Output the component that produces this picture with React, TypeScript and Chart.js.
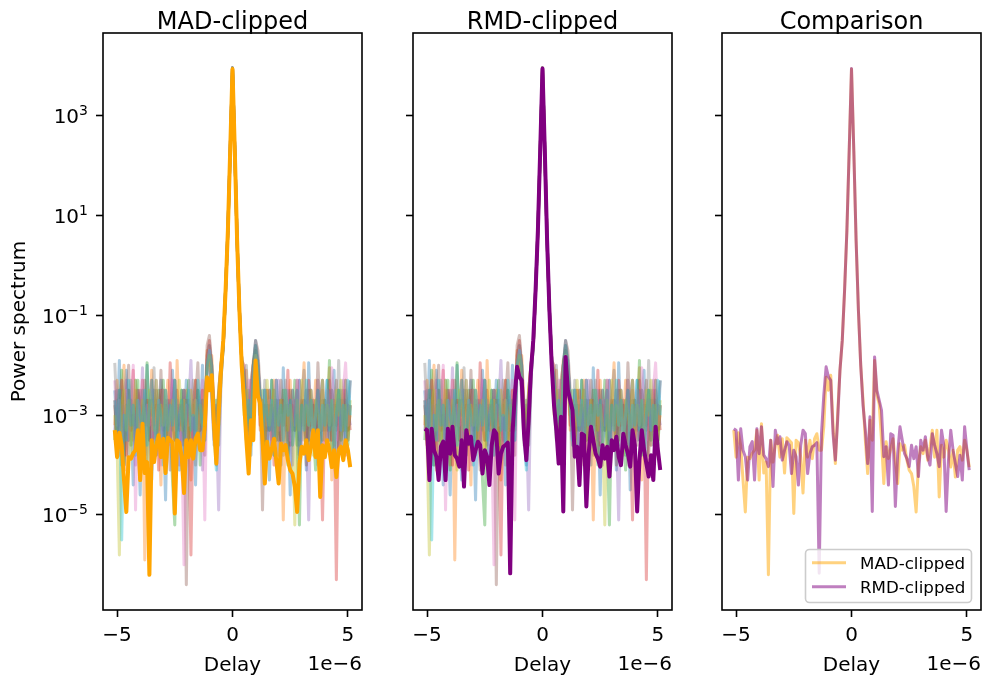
import { useEffect, useRef } from "react";
import { Chart, registerables } from "chart.js";

Chart.register(...registerables);

const FONT = "'DejaVu Sans', Verdana, sans-serif";
Chart.defaults.font.family = FONT;

// Delay grid, in units of 1e-6 s
const DELAY_US = [
  -5.1, -5.0, -4.9, -4.8, -4.7, -4.6, -4.5, -4.4, -4.3, -4.2, -4.1, -4.0, -3.9, -3.8, -3.7, -3.6, -3.5,
  -3.4, -3.3, -3.2, -3.1, -3.0, -2.9, -2.8, -2.7, -2.6, -2.5, -2.4, -2.3, -2.2, -2.1, -2.0, -1.9, -1.8,
  -1.7, -1.6, -1.5, -1.4, -1.3, -1.2, -1.1, -1.0, -0.9, -0.8, -0.7, -0.6, -0.5, -0.4, -0.3, -0.2, -0.1,
  0.0, 0.1, 0.2, 0.3, 0.4, 0.5, 0.6, 0.7, 0.8, 0.9, 1.0, 1.1, 1.2, 1.3, 1.4, 1.5, 1.6, 1.7, 1.8, 1.9,
  2.0, 2.1, 2.2, 2.3, 2.4, 2.5, 2.6, 2.7, 2.8, 2.9, 3.0, 3.1, 3.2, 3.3, 3.4, 3.5, 3.6, 3.7, 3.8, 3.9,
  4.0, 4.1, 4.2, 4.3, 4.4, 4.5, 4.6, 4.7, 4.8, 4.9, 5.0, 5.1,
];

const X_TICKS = [-5, 0, 5];
const Y_TICK_EXPONENTS = [3, 1, -1, -3, -5];

// log10 of the power spectrum, split into delay < -0.45, |delay| <= 0.4, delay > 0.45
const MAD_LEFT = [
  -3.3, -3.84, -3.35, -3.6, -4.3, -4.94, -3.84, -3.87, -3.76, -3.7, -3.3, -4.3, -3.17, -4.16, -3.94, -6.2,
  -3.5, -3.94, -3.6, -3.4, -3.84, -3.47, -4.16, -3.45, -3.5, -3.55, -4.97, -3.5, -3.55, -3.84, -4.56, -3.5,
  -3.84, -3.5, -3.87, -3.47, -3.37, -3.7, -3.7, -3.23, -2.24, -2.5, -2.2, -3.2, -3.97, -2.97, -2.1,
];
const MAD_PEAK = [-1.5, -0.5, 0.7, 2.3, 3.94, 2.3, 0.5, -0.9, -2.0];
const MAD_RIGHT = [
  -2.7, -3.5, -4.17, -3.1, -3.5, -1.9, -2.6, -2.77, -3.5, -4.37, -3.53, -3.87, -3.67, -3.47, -3.93, -4.37,
  -3.57, -3.7, -3.6, -3.9, -4.1, -4.17, -4.43, -4.94, -3.97, -3.63, -3.77, -3.5, -3.9, -3.63, -3.3, -3.84,
  -3.3, -4.64, -3.6, -3.84, -3.5, -3.7, -4.04, -3.7, -4.24, -3.7, -3.63, -3.9, -3.5, -3.7, -4.04,
];

const RMD_LEFT = [
  -3.27, -3.3, -4.3, -3.27, -3.7, -3.83, -4.3, -3.63, -3.53, -4.3, -3.27, -3.77, -3.23, -3.8, -3.87, -4.03,
  -3.5, -4.43, -3.3, -3.57, -3.43, -3.9, -3.7, -3.53, -3.6, -4.17, -3.7, -3.83, -4.4, -3.6, -3.3, -3.37,
  -4.17, -3.77, -3.63, -3.6, -3.55, -6.17, -3.37, -2.6, -2.03, -2.23, -2.3, -3.37, -3.9, -3.1, -2.1,
];
const RMD_PEAK = [-1.5, -0.5, 0.7, 2.3, 3.95, 2.3, 0.5, -0.9, -2.0];
const RMD_RIGHT = [
  -2.8, -3.3, -3.97, -3.03, -4.93, -1.83, -2.5, -2.7, -2.9, -3.83, -3.63, -4.4, -3.37, -3.4, -4.83, -3.77,
  -3.23, -3.5, -3.77, -3.87, -4.03, -3.6, -3.87, -3.63, -4.23, -3.5, -3.7, -3.43, -3.83, -4.0, -3.37, -3.6,
  -3.77, -4.03, -3.3, -3.6, -4.93, -3.9, -3.3, -3.7, -3.97, -4.23, -3.8, -4.3, -3.23, -3.7, -4.1,
];

// Individual baselines shown faintly behind the highlighted spectrum
const BASELINE_PEAK = [-1.6, -0.5, 0.7, 2.3, 3.96, 2.3, 0.5, -0.9, -1.9];
const BASELINE_LEFT = [
  [-2.5, -3.3, -1.9, -4.0, -2.8, -2.1, -3.5, -3.0, -4.4, -2.3, -3.2, -4.6, -2.7, -3.8, -2.0, -3.3, -4.3, -2.5, -2.8, -3.6, -2.3, -3.0, -4.7, -2.7, -3.2, -2.1, -3.5, -2.8, -4.1, -2.5, -3.3, -2.3, -3.8, -3.0, -2.7, -4.4, -2.5, -3.2, -2.0, -3.5, -1.9, -1.6, -2.0, -3.2, -4.0, -2.7, -2.1],
  [-3.2, -2.3, -3.6, -2.8, -2.0, -4.1, -3.0, -2.7, -3.5, -2.5, -3.3, -4.0, -2.3, -5.9, -2.8, -3.2, -2.1, -3.8, -2.7, -3.3, -4.4, -2.5, -3.0, -2.3, -3.5, -2.8, -4.0, -1.9, -3.2, -2.7, -3.6, -2.5, -3.3, -4.3, -2.8, -2.3, -3.2, -3.5, -2.5, -3.0, -1.7, -2.0, -1.8, -2.8, -3.5, -2.5, -2.0],
  [-3.5, -2.7, -3.2, -2.1, -4.0, -3.0, -2.5, -3.6, -2.8, -3.3, -2.3, -4.1, -2.8, -3.2, -1.95, -3.5, -2.7, -3.3, -3.8, -2.5, -3.0, -2.3, -3.6, -2.8, -3.2, -4.3, -5.2, -2.7, -3.3, -2.5, -3.5, -3.0, -2.3, -3.8, -2.8, -3.3, -2.5, -4.0, -2.7, -3.2, -2.0, -1.8, -2.5, -3.3, -2.7, -3.6, -2.3],
  [-2.7, -3.6, -3.0, -2.3, -3.3, -3.8, -2.5, -3.2, -2.1, -3.5, -2.8, -2.5, -4.0, -3.0, -2.7, -3.5, -2.3, -3.2, -2.8, -4.1, -2.5, -3.3, -2.7, -3.6, -1.95, -3.0, -3.5, -2.5, -3.2, -2.8, -3.8, -2.7, -3.3, -5.8, -2.8, -2.3, -3.5, -3.0, -2.5, -3.3, -1.8, -1.5, -2.1, -3.0, -3.8, -2.8, -2.0],
  [-3.3, -2.5, -3.8, -2.8, -3.2, -2.3, -3.5, -2.7, -3.0, -4.0, -2.5, -3.3, -2.05, -3.6, -2.8, -3.2, -4.1, -2.7, -2.3, -3.3, -3.0, -3.8, -2.5, -2.8, -3.5, -2.3, -3.2, -2.7, -4.0, -3.0, -2.5, -3.5, -2.8, -1.9, -3.3, -3.6, -2.7, -3.0, -4.1, -2.5, -2.1, -1.9, -2.7, -3.5, -3.0, -4.9, -2.3],
  [-2.8, -3.5, -2.5, -3.2, -4.0, -2.7, -2.0, -3.3, -3.0, -3.6, -2.5, -2.8, -3.5, -2.3, -3.2, -2.7, -3.8, -3.0, -2.5, -3.3, -2.1, -3.5, -2.8, -3.2, -4.1, -2.7, -2.3, -3.3, -3.0, -3.6, -2.5, -6.4, -2.8, -3.2, -3.5, -2.7, -1.95, -3.3, -2.8, -3.8, -1.6, -1.4, -2.0, -2.8, -3.3, -2.5, -2.0],
  [-2.3, -3.2, -2.7, -3.6, -3.0, -2.5, -3.5, -2.8, -2.0, -4.9, -2.7, -3.3, -2.3, -3.8, -2.8, -3.2, -2.5, -3.5, -3.0, -2.7, -4.0, -2.5, -3.2, -2.8, -3.6, -2.3, -3.3, -2.7, -3.0, -3.5, -6.0, -2.8, -3.2, -2.5, -3.8, -2.7, -3.3, -3.0, -2.3, -5.1, -2.0, -1.7, -2.3, -3.2, -3.6, -2.7, -2.0],
  [-1.95, -3.0, -3.5, -2.5, -3.3, -2.8, -3.8, -2.3, -3.2, -2.7, -3.6, -3.0, -2.5, -3.3, -4.0, -2.7, -3.0, -2.05, -3.5, -2.8, -3.2, -2.5, -3.8, -3.0, -2.7, -3.3, -2.3, -3.6, -2.8, -3.2, -2.5, -3.5, -2.7, -3.0, -2.3, -4.0, -2.8, -3.3, -2.7, -3.2, -2.0, -1.9, -2.5, -3.6, -2.8, -3.2, -2.3],
  [-3.0, -3.6, -5.8, -2.8, -2.5, -3.3, -2.7, -3.8, -3.0, -2.3, -3.2, -3.5, -2.7, -3.0, -4.1, -2.5, -2.8, -3.3, -2.3, -3.6, -2.8, -3.2, -2.5, -3.5, -3.0, -2.7, -3.8, -2.8, -2.3, -3.3, -2.7, -3.2, -3.6, -2.5, -3.0, -2.7, -3.5, -2.8, -3.2, -2.5, -2.1, -1.8, -2.3, -3.0, -3.5, -2.5, -2.0],
  [-2.7, -3.3, -2.5, -5.5, -3.0, -3.5, -2.3, -3.2, -2.8, -3.8, -2.7, -3.0, -3.3, -2.5, -3.6, -2.8, -2.3, -3.2, -3.5, -2.7, -3.0, -4.0, -2.5, -3.3, -2.8, -3.2, -2.3, -3.5, -3.0, -2.7, -3.8, -2.8, -2.5, -3.3, -3.0, -3.6, -2.3, -2.8, -3.2, -3.5, -2.0, -1.7, -2.0, -3.3, -4.1, -2.8, -2.1],
];
const BASELINE_RIGHT = [
  [-2.3, -3.3, -2.8, -3.8, -2.0, -1.5, -1.9, -2.8, -3.6, -2.5, -3.2, -4.3, -2.3, -3.0, -3.5, -2.7, -4.0, -2.05, -3.3, -2.8, -4.6, -2.5, -3.0, -3.6, -2.3, -3.2, -2.7, -4.1, -1.95, -3.3, -2.8, -3.8, -2.5, -4.5, -2.7, -3.2, -2.3, -3.5, -2.8, -2.1, -4.0, -3.0, -2.5, -3.6, -2.7, -3.3, -2.3],
  [-2.7, -2.1, -3.2, -2.5, -1.9, -1.8, -2.3, -3.3, -2.8, -3.8, -2.5, -3.0, -3.5, -2.3, -3.2, -4.1, -2.7, -5.1, -2.8, -3.3, -2.3, -3.6, -3.0, -2.5, -4.0, -2.8, -1.95, -3.3, -3.5, -2.7, -3.2, -2.3, -3.8, -2.8, -2.5, -3.5, -3.0, -2.05, -4.3, -2.7, -3.2, -2.5, -3.6, -2.8, -2.3, -3.3, -3.0],
  [-2.8, -3.5, -2.5, -3.2, -2.0, -1.7, -2.1, -3.0, -2.5, -3.6, -2.8, -3.3, -2.3, -3.8, -2.7, -3.2, -3.5, -2.5, -3.0, -4.0, -2.7, -3.3, -2.3, -3.5, -5.2, -2.8, -3.2, -2.5, -3.6, -2.7, -3.3, -4.1, -2.3, -3.0, -3.5, -2.7, -3.2, -1.9, -3.8, -2.8, -3.3, -2.5, -3.5, -3.0, -2.3, -3.6, -2.8],
  [-2.0, -3.0, -3.6, -2.7, -2.0, -1.6, -2.0, -3.2, -2.7, -3.5, -2.5, -3.3, -2.8, -4.0, -2.3, -3.0, -3.5, -2.7, -3.2, -2.1, -3.6, -2.8, -3.3, -2.5, -3.8, -2.7, -3.2, -3.5, -2.3, -3.0, -2.7, -3.6, -2.5, -3.2, -5.1, -2.8, -3.3, -2.3, -3.5, -3.0, -6.3, -2.7, -3.2, -2.5, -3.8, -2.8, -3.3],
  [-2.5, -3.2, -3.5, -2.3, -2.8, -1.9, -2.0, -2.7, -3.3, -2.8, -3.8, -2.5, -3.2, -2.7, -3.5, -2.3, -3.0, -3.6, -2.8, -2.5, -3.3, -4.0, -2.7, -3.0, -2.3, -3.5, -2.8, -3.2, -5.1, -2.5, -3.3, -2.8, -3.8, -2.7, -2.3, -3.2, -3.5, -2.8, -2.5, -3.6, -3.0, -2.7, -3.3, -2.3, -3.5, -2.8, -3.2],
  [-2.1, -2.8, -3.3, -2.3, -2.0, -1.5, -1.7, -2.5, -4.9, -2.8, -3.3, -2.5, -3.6, -3.0, -2.7, -3.5, -2.3, -3.2, -2.8, -3.8, -2.5, -3.0, -3.3, -2.3, -3.5, -2.8, -2.7, -4.0, -2.5, -3.2, -2.8, -3.5, -1.95, -3.0, -3.3, -2.7, -3.6, -2.5, -3.2, -2.8, -2.3, -3.8, -2.7, -3.3, -2.5, -3.5, -2.8],
  [-2.7, -3.3, -2.3, -3.0, -2.1, -1.8, -2.0, -2.8, -3.5, -2.5, -3.2, -2.7, -3.6, -2.8, -2.3, -3.3, -3.0, -3.8, -2.5, -2.8, -3.5, -2.7, -3.2, -2.3, -3.3, -3.6, -2.8, -2.5, -3.2, -2.7, -3.5, -3.0, -2.3, -3.3, -2.8, -3.8, -2.5, -3.2, -2.05, -3.0, -3.5, -2.7, -3.3, -2.5, -1.95, -3.2, -2.8],
  [-2.8, -2.0, -3.2, -3.5, -2.5, -2.0, -1.9, -2.7, -3.2, -2.3, -3.6, -2.8, -3.3, -2.5, -3.0, -3.8, -2.7, -3.2, -2.3, -3.5, -2.8, -2.5, -3.3, -3.0, -3.6, -2.7, -2.1, -3.2, -3.5, -2.5, -3.0, -2.7, -4.0, -2.8, -2.3, -3.3, -3.0, -3.5, -2.5, -2.8, -3.2, -1.9, -3.6, -2.7, -3.3, -2.8, -2.3],
  [-3.0, -2.5, -3.5, -2.8, -2.3, -1.8, -2.1, -3.0, -2.7, -3.6, -2.3, -3.2, -2.8, -2.5, -3.5, -3.0, -2.7, -3.8, -2.5, -3.3, -2.8, -3.2, -5.2, -2.7, -3.3, -2.3, -3.5, -2.8, -3.2, -2.5, -3.8, -2.7, -3.0, -3.3, -2.3, -3.5, -2.8, -3.2, -2.7, -3.6, -2.5, -3.0, -2.3, -3.3, -2.8, -3.5, -2.7],
  [-2.3, -3.2, -2.7, -3.6, -2.0, -1.6, -2.0, -2.8, -3.5, -2.5, -3.0, -3.3, -2.7, -3.8, -2.3, -3.2, -2.8, -3.5, -2.5, -3.0, -2.7, -3.6, -3.2, -2.5, -4.0, -2.8, -3.3, -2.3, -3.2, -2.7, -3.5, -3.0, -2.5, -3.6, -2.8, -3.2, -2.3, -3.3, -2.7, -3.8, -3.0, -2.5, -3.3, -2.8, -3.5, -2.3, -3.0],
];

const TAB10 = [
  "31,119,180", "255,127,14", "44,160,44", "214,39,40", "148,103,189",
  "140,86,75", "227,119,194", "127,127,127", "188,189,34", "23,190,207",
];

const MAD_COLOR = "255,165,0";
const RMD_COLOR = "128,0,128";

type Kind = "mad" | "rmd" | "cmp";
type PanelSpec = { title: string; left: number; right: number; kind: Kind };

const PANELS: PanelSpec[] = [
  { title: "MAD-clipped", left: 103, right: 362, kind: "mad" },
  { title: "RMD-clipped", left: 413, right: 672, kind: "rmd" },
  { title: "Comparison", left: 722, right: 981, kind: "cmp" },
];

const FIG_W = 982;
const FIG_H = 680;
const PLOT_TOP = 33;
const PLOT_BOTTOM = 610;
const Y_MIN = Math.pow(10, -6.905);
const Y_MAX = Math.pow(10, 4.664);
const X_MIN = -5.61;
const X_MAX = 5.61;

const toPoints = (logs: number[]) =>
  logs.map((e, i) => ({ x: DELAY_US[i], y: Math.pow(10, e) }));

const madLog = [...MAD_LEFT, ...MAD_PEAK, ...MAD_RIGHT];
const rmdLog = [...RMD_LEFT, ...RMD_PEAK, ...RMD_RIGHT];

const lineDataset = (label: string, logs: number[], color: string, width: number) => ({
  label,
  data: toPoints(logs),
  borderColor: color,
  backgroundColor: color,
  borderWidth: width,
  pointRadius: 0,
  pointHoverRadius: 0,
  tension: 0,
  fill: false,
  borderJoinStyle: "round" as const,
  borderCapStyle: "butt" as const,
});

function baselineDatasets() {
  const sets = BASELINE_LEFT.map((left, k) =>
    lineDataset(
      `baseline ${k}`,
      [...left, ...BASELINE_PEAK, ...BASELINE_RIGHT[k]],
      `rgba(${TAB10[k % TAB10.length]},0.38)`,
      3
    )
  );
  // first dataset is painted last in Chart.js, so reverse to keep the later baselines on top
  return sets.reverse();
}

function datasetsFor(kind: Kind) {
  if (kind === "mad") {
    return [lineDataset("MAD-clipped", madLog, `rgb(${MAD_COLOR})`, 4), ...baselineDatasets()];
  }
  if (kind === "rmd") {
    return [lineDataset("RMD-clipped", rmdLog, `rgb(${RMD_COLOR})`, 4), ...baselineDatasets()];
  }
  return [
    lineDataset("RMD-clipped", rmdLog, `rgba(${RMD_COLOR},0.5)`, 3),
    lineDataset("MAD-clipped", madLog, `rgba(${MAD_COLOR},0.5)`, 3),
  ];
}

const minusSign = (v: number) => (v < 0 ? "\u2212" + Math.abs(v) : String(v));

function decorations(spec: PanelSpec) {
  return {
    id: "axesDecor",
    afterDraw(chart: any) {
      const { ctx, chartArea: a } = chart;
      const cx = (a.left + a.right) / 2;
      ctx.save();

      // frame
      ctx.strokeStyle = "#000";
      ctx.lineWidth = 1.6;
      ctx.strokeRect(a.left, a.top, a.right - a.left, a.bottom - a.top);

      ctx.fillStyle = "#000";
      ctx.textBaseline = "alphabetic";

      // title
      ctx.textAlign = "center";
      ctx.font = `24px ${FONT}`;
      ctx.fillText(spec.title, cx, 29);

      // x label and offset
      ctx.font = `20px ${FONT}`;
      ctx.fillText("Delay", cx, 671);
      ctx.textAlign = "right";
      ctx.fillText("1e\u22126", a.right, 670);

      if (spec.kind === "mad") {
        // y tick labels with superscript exponents
        const yScale = chart.scales.y;
        const xr = a.left - 15;
        for (const e of Y_TICK_EXPONENTS) {
          const y = yScale.getPixelForValue(Math.pow(10, e));
          const expStr = minusSign(e);
          ctx.font = `14px ${FONT}`;
          const we = ctx.measureText(expStr).width;
          ctx.font = `20px ${FONT}`;
          const wb = ctx.measureText("10").width;
          ctx.textAlign = "left";
          ctx.fillText("10", xr - we - wb, y + 7.5);
          ctx.font = `14px ${FONT}`;
          ctx.fillText(expStr, xr - we, y - 0.5);
        }
        // y label
        ctx.save();
        ctx.translate(25, (a.top + a.bottom) / 2);
        ctx.rotate(-Math.PI / 2);
        ctx.textAlign = "center";
        ctx.font = `20px ${FONT}`;
        ctx.fillText("Power spectrum", 0, 0);
        ctx.restore();
      }

      if (spec.kind === "cmp") {
        // legend box in the lower right corner
        const bx = 805.5, by = 549.5, bw = 166, bh = 53;
        ctx.beginPath();
        ctx.roundRect(bx, by, bw, bh, 4);
        ctx.fillStyle = "rgba(255,255,255,0.8)";
        ctx.fill();
        ctx.strokeStyle = "#cccccc";
        ctx.lineWidth = 1.6;
        ctx.stroke();
        const entries = [
          { label: "MAD-clipped", color: `rgba(${MAD_COLOR},0.5)`, y: 562.7 },
          { label: "RMD-clipped", color: `rgba(${RMD_COLOR},0.5)`, y: 586.7 },
        ];
        ctx.font = `16.7px ${FONT}`;
        ctx.textAlign = "left";
        for (const ent of entries) {
          ctx.beginPath();
          ctx.strokeStyle = ent.color;
          ctx.lineWidth = 3;
          ctx.moveTo(812, ent.y);
          ctx.lineTo(846, ent.y);
          ctx.stroke();
          ctx.fillStyle = "#000";
          ctx.fillText(ent.label, 860, ent.y + 6);
        }
      }
      ctx.restore();
    },
  };
}

const tickGrid = {
  drawOnChartArea: false,
  drawTicks: true,
  tickLength: 7,
  tickWidth: 1.6,
  tickColor: "#000",
  color: "#000",
};

function buildConfig(spec: PanelSpec): any {
  return {
    type: "line",
    data: { datasets: datasetsFor(spec.kind) },
    options: {
      responsive: false,
      animation: false,
      devicePixelRatio: 1,
      events: [],
      layout: {
        padding: {
          left: spec.left - 10,
          right: FIG_W - spec.right,
          top: PLOT_TOP,
          bottom: 0,
        },
      },
      plugins: {
        legend: { display: false },
        tooltip: { enabled: false },
        title: { display: false },
      },
      scales: {
        x: {
          type: "linear",
          min: X_MIN,
          max: X_MAX,
          afterBuildTicks: (s: any) => {
            s.ticks = X_TICKS.map((v) => ({ value: v }));
          },
          afterFit: (s: any) => {
            s.height = FIG_H - PLOT_BOTTOM;
          },
          grid: tickGrid,
          border: { display: false },
          ticks: {
            color: "#000",
            font: { size: 20, family: FONT },
            padding: 7,
            maxRotation: 0,
            autoSkip: false,
            callback: (v: number) => minusSign(v),
          },
        },
        y: {
          type: "logarithmic",
          min: Y_MIN,
          max: Y_MAX,
          afterBuildTicks: (s: any) => {
            s.ticks = Y_TICK_EXPONENTS.map((e) => ({ value: Math.pow(10, e) }));
          },
          afterFit: (s: any) => {
            s.width = 10;
          },
          grid: tickGrid,
          border: { display: false },
          ticks: { callback: () => "" },
        },
      },
    },
    plugins: [decorations(spec)],
  };
}

function Panel({ spec }: { spec: PanelSpec }) {
  const ref = useRef<HTMLCanvasElement | null>(null);
  useEffect(() => {
    const canvas = ref.current;
    if (!canvas) return;
    const chart = new Chart(canvas, buildConfig(spec));
    return () => chart.destroy();
  }, [spec]);
  return (
    <canvas
      ref={ref}
      width={FIG_W}
      height={FIG_H}
      style={{ position: "absolute", left: 0, top: 0, width: FIG_W, height: FIG_H }}
    />
  );
}

export default function App() {
  return (
    <div
      style={{
        position: "fixed",
        left: 0,
        top: 0,
        width: FIG_W,
        height: FIG_H,
        background: "#fff",
        overflow: "hidden",
      }}
    >
      {PANELS.map((p) => (
        <Panel key={p.title} spec={p} />
      ))}
    </div>
  );
}
